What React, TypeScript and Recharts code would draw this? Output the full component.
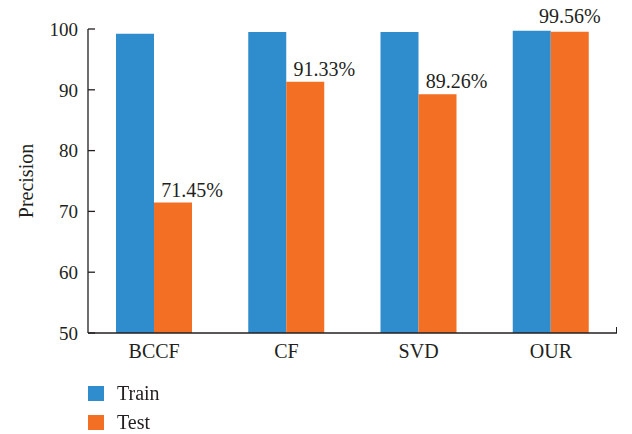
import React from 'react';
import {
    BarChart,
    Bar,
    XAxis,
    YAxis,
    LabelList,
} from 'recharts';

const methods = ['BCCF', 'CF', 'SVD', 'OUR'];
const trainPrecision = [99.2, 99.5, 99.5, 99.7];
const testPrecision = [71.45, 91.33, 89.26, 99.56];
const yTicks = [50, 60, 70, 80, 90, 100];

const seriesColors = { Train: '#2f8dcd', Test: '#f26f24' };
const FONT = 'Liberation Serif, serif';
const INK = '#231f20';

const data = methods.map((name, i) => ({
    name,
    Train: trainPrecision[i],
    Test: testPrecision[i],
}));

const yTickStyle = { fontFamily: FONT, fontSize: 19, fill: INK };
const xTickStyle = { fontFamily: FONT, fontSize: 20, fill: INK };

// percentage label above each test bar; the last one sits centred on its bar
const TestLabel = (props: any) => {
    const { x, y, width, index, value } = props;
    const last = index === methods.length - 1;
    const cx = last ? x + width / 2 : x + width;
    return (
        <text
            x={cx}
            y={y - (last ? 9 : 6)}
            textAnchor="middle"
            fontFamily={FONT}
            fontSize={20}
            fill={INK}
        >
            {`${Number(value).toFixed(2)}%`}
        </text>
    );
};

const YTitle = (props: any) => {
    const { viewBox } = props;
    const cx = viewBox.x - 2;
    const cy = viewBox.y + viewBox.height / 2;
    return (
        <text
            x={cx}
            y={cy}
            transform={`rotate(-90, ${cx}, ${cy})`}
            textAnchor="middle"
            dominantBaseline="central"
            fontFamily={FONT}
            fontSize={20}
            fill={INK}
        >
            Precision
        </text>
    );
};

const LegendBox = () => (
    <div style={{ position: 'absolute', left: 88, top: 379, fontFamily: FONT, fontSize: 20, color: INK }}>
        {(['Train', 'Test'] as const).map((key) => (
            <div
                key={key}
                style={{ display: 'flex', alignItems: 'center', height: 29 }}
            >
                <span
                    style={{
                        display: 'inline-block',
                        width: 16,
                        height: 15,
                        background: seriesColors[key],
                        marginRight: 13,
                    }}
                />
                <span>{key}</span>
            </div>
        ))}
    </div>
);

export default function App() {
    return (
        <div
            style={{
                position: 'fixed',
                left: 0,
                top: 0,
                width: 632,
                height: 434,
                background: '#fff',
                fontFamily: FONT,
            }}
        >
            <BarChart
                width={632}
                height={434}
                data={data}
                margin={{ top: 29, right: 15, bottom: 71, left: 28 }}
                barGap={0}
                barSize={38}
            >
                <XAxis
                    dataKey="name"
                    tickLine={false}
                    tickSize={0}
                    tickMargin={11}
                    height={30}
                    axisLine={{ stroke: INK, strokeWidth: 1.3 }}
                    tick={xTickStyle}
                />
                <YAxis
                    domain={[50, 100]}
                    ticks={yTicks}
                    width={60}
                    tickSize={-7}
                    tickMargin={17}
                    axisLine={{ stroke: INK, strokeWidth: 1.3 }}
                    tickLine={{ stroke: INK, strokeWidth: 1.3 }}
                    tick={yTickStyle}
                    label={<YTitle />}
                />
                <Bar dataKey="Train" fill={seriesColors.Train} isAnimationActive={false} />
                <Bar dataKey="Test" fill={seriesColors.Test} isAnimationActive={false}>
                    <LabelList dataKey="Test" content={<TestLabel />} />
                </Bar>
            </BarChart>
            <LegendBox />
            {/* closing tick at the right end of the category axis */}
            <div
                style={{
                    position: 'absolute',
                    left: 616,
                    top: 327,
                    width: 1.3,
                    height: 6,
                    background: INK,
                }}
            />
        </div>
    );
}
